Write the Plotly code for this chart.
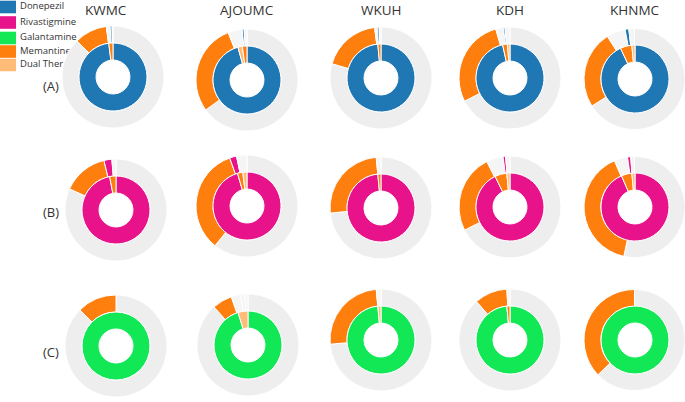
import plotly.graph_objects as go

W, H = 685, 402

sites = ["KWMC", "AJOUMC", "WKUH", "KDH", "KHNMC"]
row_tags = ["(A)", "(B)", "(C)"]
drugs = ["Donepezil", "Rivastigmine", "Galantamine", "Memantine", "Dual Therapy"]
drug_colors = ["#1f77b4", "#e8128a", "#12e856", "#ff7f0e", "#ffbb78"]

# inner ring: initial prescription, clockwise from 12 o'clock
inner_a = [
    [("Donepezil", 98.0), ("Memantine", 2.0)],
    [("Donepezil", 95.7), ("Dual Therapy", 2.1), ("Memantine", 2.2)],
    [("Donepezil", 98.5), ("Memantine", 1.5)],
    [("Donepezil", 96.5), ("Memantine", 2.3), ("Dual Therapy", 1.2)],
    [("Donepezil", 93.0), ("Memantine", 5.5), ("Dual Therapy", 1.5)],
]
inner_b = [
    [("Rivastigmine", 97.0), ("Memantine", 3.0)],
    [("Rivastigmine", 95.5), ("Memantine", 2.5), ("Dual Therapy", 2.0)],
    [("Rivastigmine", 98.5), ("Memantine", 1.5)],
    [("Rivastigmine", 92.8), ("Memantine", 5.7), ("Dual Therapy", 1.5)],
    [("Rivastigmine", 93.5), ("Memantine", 5.0), ("Dual Therapy", 1.5)],
]
inner_c = [
    [("Galantamine", 100.0)],
    [("Galantamine", 95.3), ("Dual Therapy", 4.7)],
    [("Galantamine", 98.5), ("Dual Therapy", 1.5)],
    [("Galantamine", 98.5), ("Memantine", 1.5)],
    [("Galantamine", 100.0)],
]

# outer ring: later prescription ("Same" = unchanged, "Other" = other change)
outer_a = [
    [("Same", 87.5), ("Memantine", 10.4), ("Other", 1.2), ("Donepezil", 0.6), ("Other", 0.3)],
    [("Same", 65.0), ("Memantine", 29.0), ("Other", 4.5), ("Donepezil", 0.6), ("Other", 0.9)],
    [("Same", 79.5), ("Memantine", 18.5), ("Other", 0.8), ("Donepezil", 0.6), ("Other", 0.6)],
    [("Same", 67.5), ("Memantine", 28.0), ("Other", 2.4), ("Donepezil", 0.5), ("Other", 1.6)],
    [("Same", 66.0), ("Memantine", 25.0), ("Other", 6.0), ("Donepezil", 1.2), ("Other", 1.8)],
]
outer_b = [
    [("Same", 81.8), ("Memantine", 14.4), ("Rivastigmine", 2.5), ("Other", 1.3)],
    [("Same", 60.8), ("Memantine", 33.7), ("Rivastigmine", 2.2), ("Other", 3.3)],
    [("Same", 73.4), ("Memantine", 25.1), ("Other", 1.5)],
    [("Same", 67.5), ("Memantine", 25.0), ("Other", 5.3), ("Rivastigmine", 0.8), ("Other", 1.4)],
    [("Same", 53.4), ("Memantine", 40.1), ("Other", 4.3), ("Rivastigmine", 1.0), ("Other", 1.2)],
]
outer_c = [
    [("Same", 87.5), ("Memantine", 12.5)],
    [("Same", 88.4), ("Memantine", 6.3), ("Other", 3.0), ("Other", 1.3), ("Other", 1.0)],
    [("Same", 73.7), ("Memantine", 24.8), ("Other", 1.5)],
    [("Same", 88.6), ("Memantine", 10.4), ("Other", 1.0)],
    [("Same", 62.9), ("Memantine", 37.1)],
]

# centre of each donut in pixels (row by row)
centers = [
    [(113, 77), (247, 80), (381, 78), (510, 78), (635, 79)],
    [(116, 210), (247, 206), (381, 208), (510, 207), (635, 207)],
    [(116, 346), (248, 345), (381, 340), (510, 340), (635, 340)],
]
title_x = [106, 247, 381, 510, 635]
R_OUT, R_IN, R_HOLE = 51, 34, 17

colmap = dict(zip(drugs, drug_colors))
colmap["Same"] = "#eeeeee"
colmap["Other"] = "#f5f5f5"


def dom(cx, cy, r):
    x0, x1 = max(cx - r, 0) / W, min(cx + r, W) / W
    y0, y1 = max(1 - (cy + r) / H, 0), min(1 - (cy - r) / H, 1)
    return dict(x=[x0, x1], y=[y0, y1])


fig = go.Figure()

# legend text under the pies (cartesian layer is drawn below the pie layer)
leg_y = [7, 22.5, 38, 51.5, 65]
fig.add_trace(go.Scatter(x=[20] * len(drugs), y=leg_y, text=drugs, mode="text",
                         textposition="middle right",
                         textfont=dict(size=9.5, color="#333", family="Open Sans"),
                         hoverinfo="skip", showlegend=False))

rows = [(inner_a, outer_a), (inner_b, outer_b), (inner_c, outer_c)]
for r, (inner, outer) in enumerate(rows):
    for c in range(len(sites)):
        cx, cy = centers[r][c]
        for segs, rad, hole in [(outer[c], R_OUT, R_IN / R_OUT), (inner[c], R_IN, R_HOLE / R_IN)]:
            fig.add_trace(go.Pie(
                values=[v for _, v in segs],
                text=[k for k, _ in segs],
                marker=dict(colors=[colmap[k] for k, _ in segs],
                            line=dict(color="white", width=1)),
                hole=hole, sort=False, direction="clockwise", rotation=0,
                textinfo="none", hoverinfo="text+percent",
                domain=dom(cx, cy, rad), showlegend=False,
            ))

shapes = []
for i, col in enumerate(drug_colors):
    shapes.append(dict(type="rect", xref="x", yref="y", x0=0, x1=16,
                       y0=leg_y[i] - 6.3, y1=leg_y[i] + 6.3,
                       fillcolor=col, line=dict(width=0), layer="below"))

annotations = []
for c, s in enumerate(sites):
    annotations.append(dict(text=s, x=title_x[c], y=9.5, xref="x", yref="y",
                            showarrow=False, xanchor="center", yanchor="middle",
                            font=dict(size=13.5, color="#333", family="Open Sans")))
for r, t in enumerate(row_tags):
    annotations.append(dict(text=t, x=50.5, y=[86, 212, 352][r], xref="x", yref="y",
                            showarrow=False, xanchor="center", yanchor="middle",
                            font=dict(size=13, color="#333", family="Open Sans")))

fig.update_layout(
    width=W, height=H,
    margin=dict(l=0, r=0, t=0, b=0),
    paper_bgcolor="white", plot_bgcolor="rgba(0,0,0,0)",
    xaxis=dict(range=[0, W], visible=False, fixedrange=True, domain=[0, 1]),
    yaxis=dict(range=[H, 0], visible=False, fixedrange=True, domain=[0, 1]),
    shapes=shapes, annotations=annotations,
    showlegend=False,
)

# drop the default page margin so the figure sits at the window's corner
fig.write_html("out.html", config={"displayModeBar": False},
               post_script="document.body.style.margin='0';")
